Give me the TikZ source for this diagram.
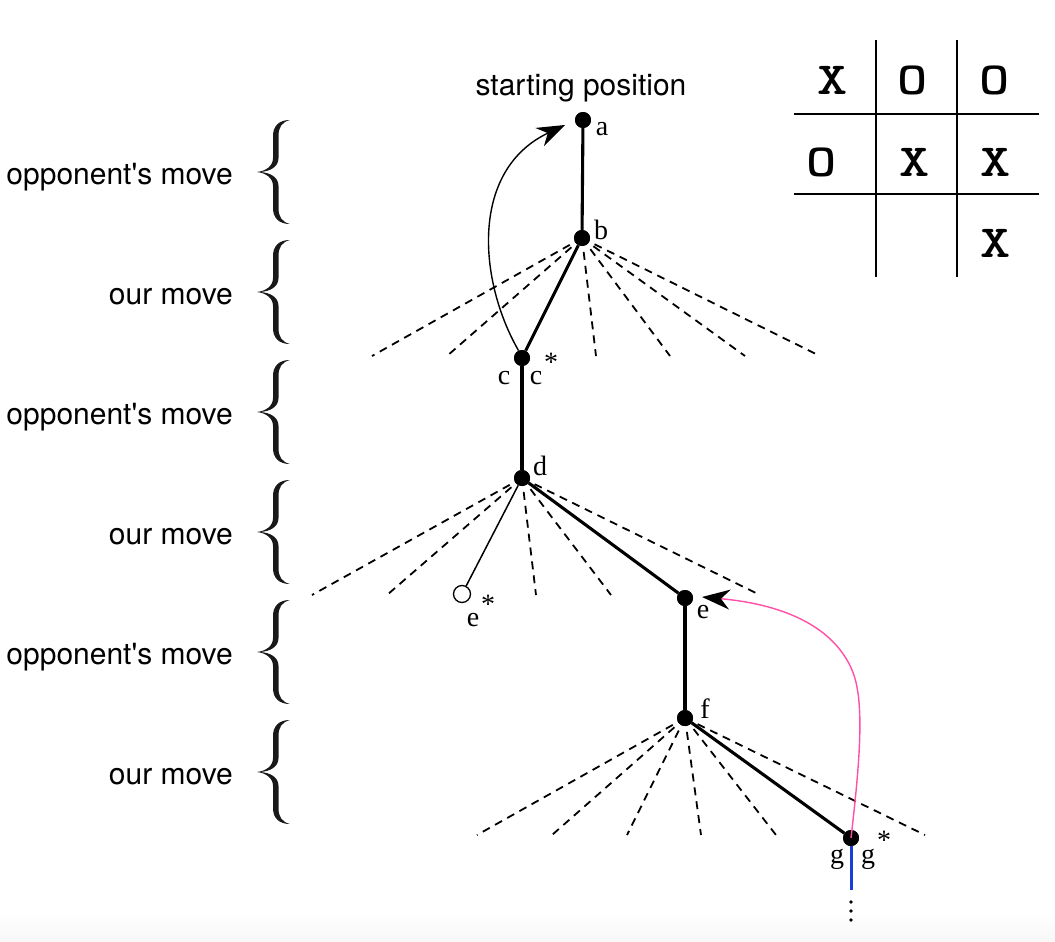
\documentclass[tikz,border=0pt]{standalone}
\usepackage{fontspec}
\setmainfont{Liberation Serif}
\setsansfont{TeX Gyre Heros}
\usetikzlibrary{arrows.meta,calc}
\definecolor{pinkc}{HTML}{FF4FA8}
\definecolor{bluec}{HTML}{1A3FD9}
\newcommand\boardch[1]{\scalebox{1.25}[1]{#1}}
\begin{document}
\begin{tikzpicture}[x=1pt,y=-1pt,
 dotnode/.style={circle,fill=black,draw=none,minimum size=16pt,inner sep=0pt},
 opennode/.style={circle,fill=white,draw=black,line width=1.3pt,minimum size=17pt,inner sep=0pt},
 thickedge/.style={line width=3.1pt},
 thinedge/.style={line width=1.5pt},
 dashedge/.style={line width=1.8pt,dash pattern=on 8pt off 6pt},
 lbl/.style={font=\fontsize{28}{30}\selectfont,inner sep=0pt},
 starlbl/.style={font=\fontsize{28}{30}\selectfont,inner sep=0pt},
 sidetxt/.style={font=\sffamily\fontsize{30}{34}\selectfont,inner sep=0pt,anchor=east},
 toptxt/.style={font=\sffamily\fontsize{30}{34}\selectfont,inner sep=0pt},
 bracefill/.style={fill=black!90,draw=none},
 gridline/.style={line width=1.6pt},
 boardtxt/.style={font=\ttfamily\bfseries\fontsize{46}{46}\selectfont,inner sep=0pt},
 bigtip/.style={-{Stealth[length=28pt,width=20pt,inset=9pt]}},
]
\useasboundingbox (0,0) rectangle (1055,942);
\fill[top color=white,bottom color=black!3,draw=none] (0,912) rectangle (1055,942);

% side labels and braces
\foreach \k/\t in {0/opponent\textquotesingle s move,1/our move,2/opponent\textquotesingle s move,3/our move,4/opponent\textquotesingle s move,5/our move}{
  \node[sidetxt] (side\k) at (233,{177+120*\k}) {\t};
  \begin{scope}[shift={(257,{172+120*\k})}]
    \fill[bracefill] (33,-52) .. controls (22,-52) and (16,-46) .. (16,-36) -- (16,-14)
      .. controls (16,-6) and (9,-1) .. (0,0) .. controls (9,1) and (16,6) .. (16,14)
      -- (16,36) .. controls (16,46) and (22,52) .. (33,52)
      .. controls (25,50) and (21.5,45) .. (21.5,36) -- (21.5,14)
      .. controls (21.5,5) and (13,0.6) .. (3,0) .. controls (13,-0.6) and (21.5,-5) .. (21.5,-14)
      -- (21.5,-36) .. controls (21.5,-45) and (25,-50) .. (33,-52) -- cycle;
  \end{scope}
}

% tree nodes
\node[toptxt] (start) at (581,88) {starting position};
\node[dotnode] (a) at (583,120) {};
\node[dotnode] (b) at (582,238) {};
\node[dotnode] (c) at (522,358) {};
\node[dotnode] (d) at (522,478) {};
\node[opennode] (es) at (462,594) {};
\node[dotnode] (e) at (685,598) {};
\node[dotnode] (f) at (685,718) {};
\node[dotnode] (g) at (851,838) {};
\coordinate (gend) at (851,890);

% dashed alternatives
\foreach \x [count=\i] in {372,447,596,670,745,820}{
  \coordinate (bb\i) at (\x,356);
  \draw[dashedge] (b.center) -- (bb\i);
}
\foreach \x [count=\i] in {312,387,536,611,760}{
  \coordinate (dd\i) at (\x,595);
  \draw[dashedge] (d.center) -- (dd\i);
}
\foreach \x [count=\i] in {477,552,627,701,776,925}{
  \coordinate (ff\i) at (\x,835);
  \draw[dashedge] (f.center) -- (ff\i);
}

% main line
\draw[thickedge] (a) -- (b);
\draw[thickedge] (b) -- (c);
\draw[thickedge] (c) -- (d);
\draw[thinedge] (d) -- (es);
\draw[thickedge] (d) -- (e);
\draw[thickedge] (e) -- (f);
\draw[thickedge] (f) -- (g);
\draw[line width=3pt,bluec] (g.center) -- (gend);
\foreach \y in {902,911,920}{\fill (851,\y) circle (1.8pt);}

% redraw dots on top
\foreach \n in {a,b,c,d,e,f,g}{\fill (\n) circle (8pt);}

% curved arrows
\draw[line width=1.4pt,bigtip] (c.115) .. controls (478,280) and (470,170) .. ($(a.center)+(-18,5)$);
\draw[line width=1.4pt,pinkc,-{Stealth[length=28pt,width=20pt,inset=9pt,color=black]}]
  (g.center) .. controls (860,760) and (865,700) .. (852,670)
  .. controls (835,630) and (790,605) .. ($(e.center)+(17,-1)$);

% labels
\node[lbl] (la) at (602,129) {a};
\node[lbl] (lb) at (601,230) {b};
\node[lbl] (lc1) at (504,378) {c};
\node[lbl] (lc2) at (536,378) {c};
\node[starlbl] (lcs) at (551,362) {*};
\node[lbl] (ld) at (540,466) {d};
\node[lbl] (le) at (703,612) {e};
\node[lbl] (les) at (473,620) {e};
\node[starlbl] (less) at (488,604) {*};
\node[lbl] (lf) at (705,709) {f};
\node[lbl] (lg1) at (837,859) {g};
\node[lbl] (lg2) at (868,859) {g};
\node[starlbl] (lgs) at (884,840) {*};

% board
\draw[gridline] (876,40) -- (876,277);
\draw[gridline] (957,40) -- (957,277);
\draw[gridline] (794,114) -- (1039,114);
\draw[gridline] (794,194) -- (1039,194);
\node[boardtxt] (m11) at (833,80) {\boardch{X}};
\node[boardtxt] (m12) at (913,80) {\boardch{O}};
\node[boardtxt] (m13) at (995,80) {\boardch{O}};
\node[boardtxt] (m21) at (822,162) {\boardch{O}};
\node[boardtxt] (m22) at (915,162) {\boardch{X}};
\node[boardtxt] (m23) at (996,162) {\boardch{X}};
\node[boardtxt] (m33) at (996,243) {\boardch{X}};
\end{tikzpicture}
\end{document}
